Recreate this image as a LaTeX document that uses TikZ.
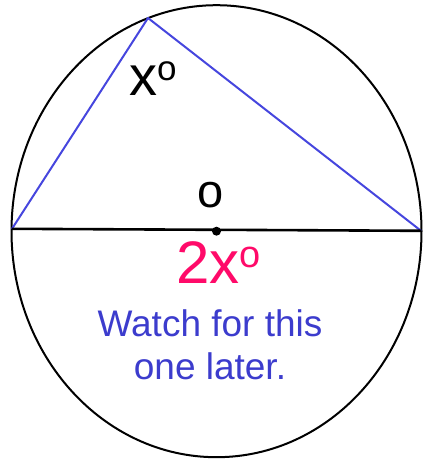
\documentclass[tikz,border=0pt]{standalone}
\usepackage{graphicx}
\usepackage{fontspec}
\setmainfont{Liberation Sans}
\definecolor{triblue}{RGB}{70,70,222}
\definecolor{txtblue}{RGB}{60,60,205}
\definecolor{hotpink}{RGB}{255,10,105}
\tikzset{
  rim/.style={draw=black, line width=2pt},
  chord/.style={draw=triblue, line width=2pt, line join=round},
  diam/.style={draw=black, line width=2.6pt},
  lbl/.style={inner sep=0pt, outer sep=0pt},
}
\begin{document}
\begin{tikzpicture}[x=1pt,y=1pt]
\useasboundingbox (0,0) rectangle (424,-463);
\coordinate (O) at (216.5,-231.2);
\coordinate (A) at (12,-228.8);
\coordinate (B) at (148,-18);
\coordinate (C) at (421,-230.8);
% circle
\draw[rim] (O) ellipse [x radius=205, y radius=226];
% inscribed triangle
\draw[chord] (A) -- (B) -- (C);
% diameter
\draw[diam] (A) -- (C);
\fill (O) circle [radius=4.5];
% labels
\node[lbl, anchor=base west] (xlab) at (129,-95)
  {\fontsize{56}{56}\selectfont x\raisebox{15pt}{\fontsize{35}{35}\selectfont o}};
\node[lbl, anchor=base] (olab) at (211,-207) {\fontsize{47}{47}\selectfont o};
\node[lbl, anchor=base west, text=hotpink] (twox) at (176,-283)
  {\fontsize{60}{60}\selectfont 2x\raisebox{16pt}{\fontsize{38}{38}\selectfont o}};
\node[lbl, anchor=north, align=center, text=txtblue, font=\fontsize{37}{43}\selectfont] (note) at (210,-310)
  {Watch for this\\one later.};
\end{tikzpicture}
\end{document}
